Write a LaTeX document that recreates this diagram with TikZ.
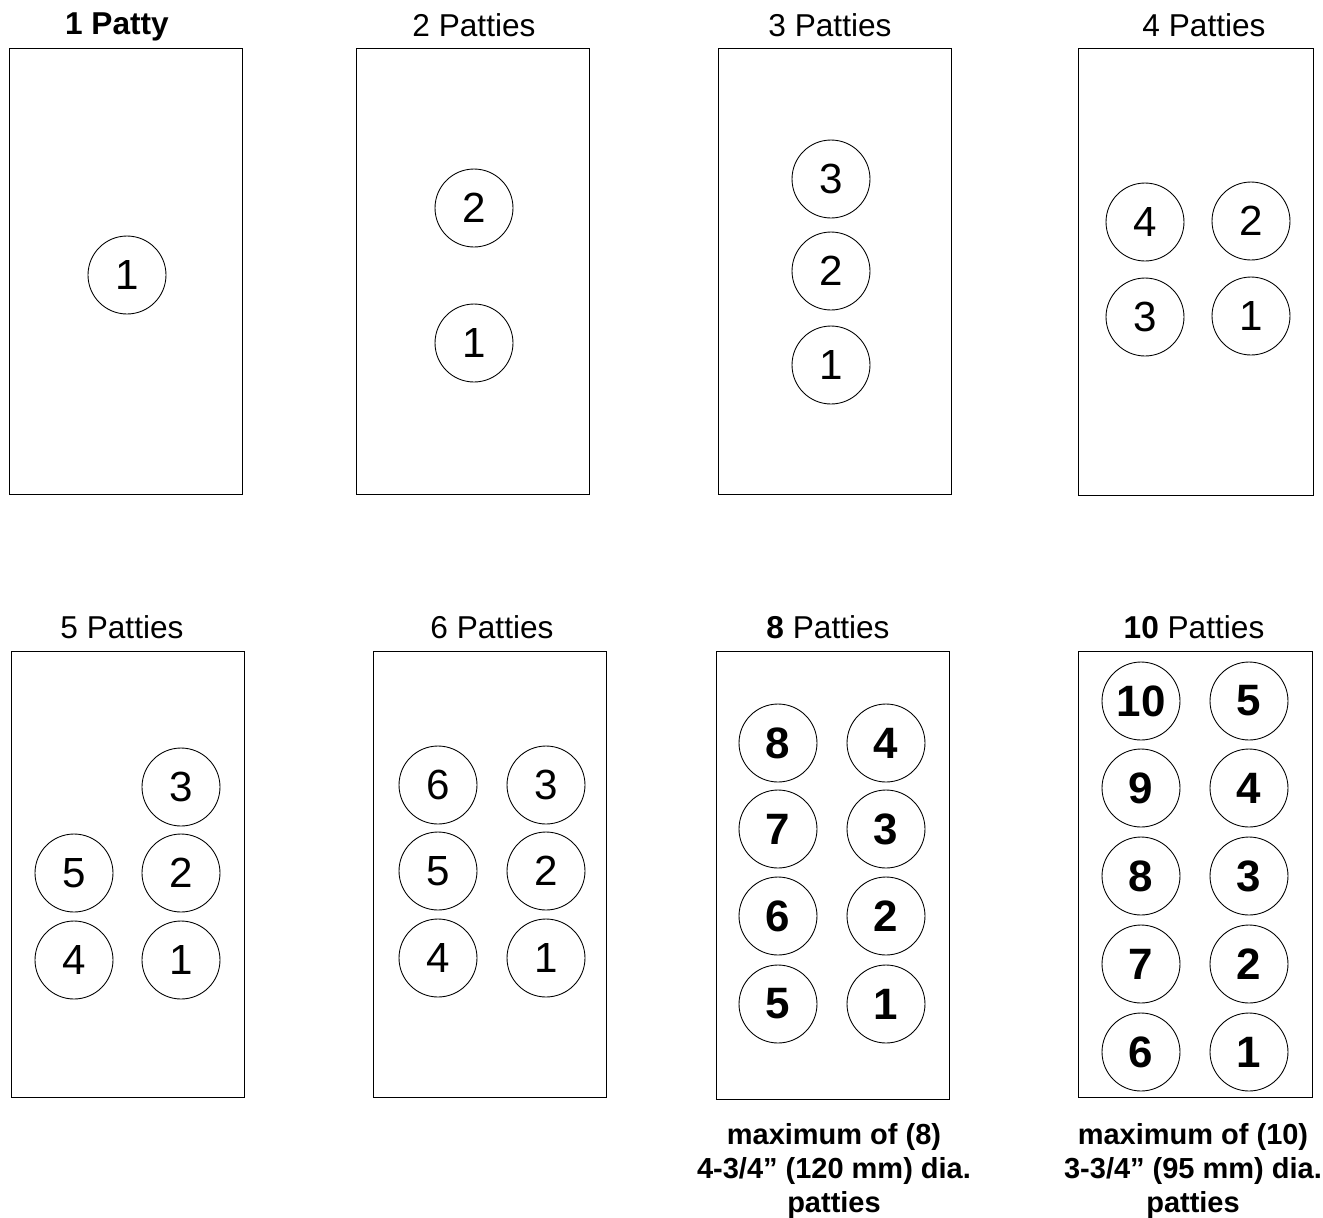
\documentclass[tikz,border=0pt]{standalone}
\usepackage{fontspec}
\setmainfont{Liberation Sans}
\usepackage{tikz}
\usetikzlibrary{positioning}

\begin{document}
\begin{tikzpicture}[x=0.02cm,y=-0.02cm,line width=0.6pt,
  tray/.style={draw,line width=0.55pt},
  title/.style={font=\fontsize{18}{21}\selectfont},
  patty/.style={circle,draw,line width=0.5pt,minimum size=1.56cm,inner sep=0pt,font=\fontsize{24}{28}\selectfont},
  bigpatty/.style={patty,font=\fontsize{25}{29}\bfseries\selectfont},
  note/.style={align=center,font=\fontsize{16.5}{19.5}\bfseries\selectfont}]
\useasboundingbox (0,0) rectangle (1323,1218);

% top row
\draw[tray] (9,48) rectangle (242,494);
\node[title] (t1) at (117,27) {\textbf{1 Patty}};
\node[patty] (a1) at (127,275) {1};

\draw[tray] (356,48) rectangle (589,494);
\node[title] (t2) at (474,25) {2 Patties};
\node[patty] (b2) at (474,208) {2};
\node[patty] (b1) at (474,343) {1};

\draw[tray] (718,48) rectangle (951,494);
\node[title] (t3) at (830,25) {3 Patties};
\foreach \n/\y in {3/179,2/271,1/365}
  \node[patty] (c\n) at (831,\y) {\n};

\draw[tray] (1078,48) rectangle (1313,495);
\node[title] (t4) at (1204,25) {4 Patties};
\node[patty] (d4) at (1145,222) {4};
\node[patty] (d2) at (1251,221) {2};
\node[patty] (d3) at (1145,317) {3};
\node[patty] (d1) at (1251,316) {1};

% bottom row
\draw[tray] (11,651) rectangle (244,1097);
\node[title] (t5) at (122,627) {5 Patties};
\node[patty] (e3) at (181,787) {3};
\node[patty] (e5) at (74,873) {5};
\node[patty] (e2) at (181,873) {2};
\node[patty] (e4) at (74,960) {4};
\node[patty] (e1) at (181,960) {1};

\draw[tray] (373,651) rectangle (606,1097);
\node[title] (t6) at (492,627) {6 Patties};
\foreach \l/\r/\y in {6/3/785,5/2/871,4/1/958}{
  \node[patty] (f\l) at (438,\y) {\l};
  \node[patty] (f\r) at (546,\y) {\r};
}

\draw[tray] (716,651) rectangle (949,1099);
\node[title] (t8) at (828,627) {\textbf{8} Patties};
\foreach \l/\r/\y in {8/4/743,7/3/829,6/2/916,5/1/1004}{
  \node[bigpatty] (g\l) at (778,\y) {\l};
  \node[bigpatty] (g\r) at (886,\y) {\r};
}
\node[note] (n8) at (834,1171) {maximum of (8)\\4-3/4” (120 mm) dia.\\patties};

\draw[tray] (1078,651) rectangle (1312,1097);
\node[title] (t10) at (1194,627) {\textbf{10} Patties};
\foreach \l/\r/\y in {10/5/701,9/4/788,8/3/876,7/2/964,6/1/1052}{
  \node[bigpatty] (h\l) at (1141,\y) {\l};
  \node[bigpatty] (h\r) at (1249,\y) {\r};
}
\node[note] (n10) at (1193,1171) {maximum of (10)\\3-3/4” (95 mm) dia.\\patties};
\end{tikzpicture}
\end{document}
